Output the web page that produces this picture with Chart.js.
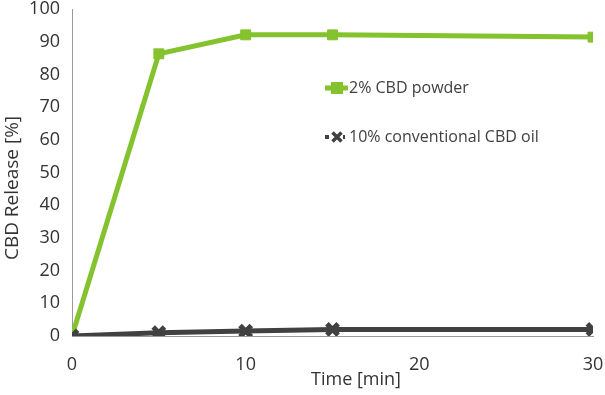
<!DOCTYPE html>
<html>
<head>
<meta charset="utf-8">
<script src="https://cdn.jsdelivr.net/npm/chart.js@4/dist/chart.umd.min.js"></script>
<style>
  html, body { margin: 0; padding: 0; background: #fff; }
  #wrap { width: 605px; height: 395px; position: relative; }
</style>
</head>
<body>
<div id="wrap"><canvas id="chart" width="605" height="395"></canvas></div>
<script>
// data
var timeMin = [0, 5, 10, 15, 30];
var powderRelease = [0, 86.3, 92.1, 92.1, 91.4];
var oilRelease = [0, 1.0, 1.5, 2.0, 2.0];
var xTicks = [0, 10, 20, 30];
var seriesNames = ['2% CBD powder', '10% conventional CBD oil'];
var xTitle = 'Time [min]';
var yTitle = 'CBD Release [%]';

var green = '#84c22e';
var dark = '#414141';
var fontFam = "'Open Sans', 'Noto Sans', sans-serif";

function toXY(xs, ys) {
    return xs.map(function (x, i) { return { x: x, y: ys[i] }; });
}

// legend inside the plot + axis titles placed off-centre like the original
var extras = {
    id: 'extras',
    afterDraw: function (chart) {
        var ctx = chart.ctx;
        var items = [
            { y: 88, color: green, style: 'rect' },
            { y: 137, color: dark, style: 'cross' }
        ];
        ctx.save();
        items.forEach(function (it, i) {
            var x0 = 325, x1 = 348, cx = 337;
            ctx.strokeStyle = it.color;
            ctx.lineWidth = 5;
            if (it.style === 'cross') {
                ctx.setLineDash([4, 4]);
                ctx.lineWidth = 4;
            }
            ctx.beginPath(); ctx.moveTo(x0, it.y); ctx.lineTo(x1, it.y); ctx.stroke();
            ctx.setLineDash([]);
            if (it.style === 'rect') {
                ctx.fillStyle = it.color;
                ctx.fillRect(cx - 6, it.y - 6, 12, 12);
            } else {
                ctx.fillStyle = '#fff';
                ctx.fillRect(cx - 6, it.y - 6, 12, 12);
                ctx.lineWidth = 3.5;
                ctx.beginPath();
                ctx.moveTo(cx - 4.5, it.y - 4.5); ctx.lineTo(cx + 4.5, it.y + 4.5);
                ctx.moveTo(cx + 4.5, it.y - 4.5); ctx.lineTo(cx - 4.5, it.y + 4.5);
                ctx.stroke();
            }
            ctx.fillStyle = '#404040';
            ctx.font = '16px ' + fontFam;
            ctx.textBaseline = 'middle';
            ctx.textAlign = 'left';
            ctx.fillText(seriesNames[i], 349, it.y);
        });

        ctx.fillStyle = '#333';
        ctx.textAlign = 'center';
        ctx.textBaseline = 'middle';
        ctx.font = '18px ' + fontFam;
        ctx.fillText(xTitle, 356, 380);
        ctx.translate(13, 188);
        ctx.rotate(-Math.PI / 2);
        ctx.font = '19px ' + fontFam;
        ctx.fillText(yTitle, 0, 0);
        ctx.restore();
    }
};

var chart = new Chart(document.getElementById('chart').getContext('2d'), {
    type: 'line',
    data: {
        datasets: [
            { label: seriesNames[1], data: toXY(timeMin, oilRelease), borderColor: dark, backgroundColor: dark,
              borderWidth: 5, pointStyle: 'crossRot', pointRadius: 8, pointBorderWidth: 5, pointHoverRadius: 8 },
            { label: seriesNames[0], data: toXY(timeMin, powderRelease), borderColor: green, backgroundColor: green,
              borderWidth: 5, pointStyle: 'rect', pointRadius: 7, pointBorderWidth: 1, pointHoverRadius: 7 }
        ]
    },
    options: {
        responsive: false,
        animation: false,
        layout: { autoPadding: false, padding: { top: 9, right: 12, left: 0, bottom: 0 } },
        plugins: { legend: { display: false }, tooltip: { enabled: false } },
        scales: {
            x: {
                type: 'linear', min: 0, max: 30,
                afterBuildTicks: function (s) { s.ticks = xTicks.map(function (v) { return { value: v }; }); },
                afterFit: function (s) { s.height = 59; s.paddingLeft = 0; s.paddingRight = 0; },
                grid: { display: false, drawTicks: true, tickLength: 6, tickColor: '#888' },
                border: { display: true, color: '#999', width: 1 },
                ticks: { color: '#333', font: { family: fontFam, size: 18 }, padding: 12, maxRotation: 0 }
            },
            y: {
                min: 0, max: 100,
                afterFit: function (s) { s.width = 72; s.paddingTop = 0; s.paddingBottom = 0; },
                grid: { display: false, drawTicks: true, tickLength: 6, tickColor: '#888' },
                border: { display: true, color: '#999', width: 1 },
                ticks: { stepSize: 10, color: '#333', font: { family: fontFam, size: 18 }, padding: 6 }
            }
        }
    },
    plugins: [extras]
});
</script>
</body>
</html>
